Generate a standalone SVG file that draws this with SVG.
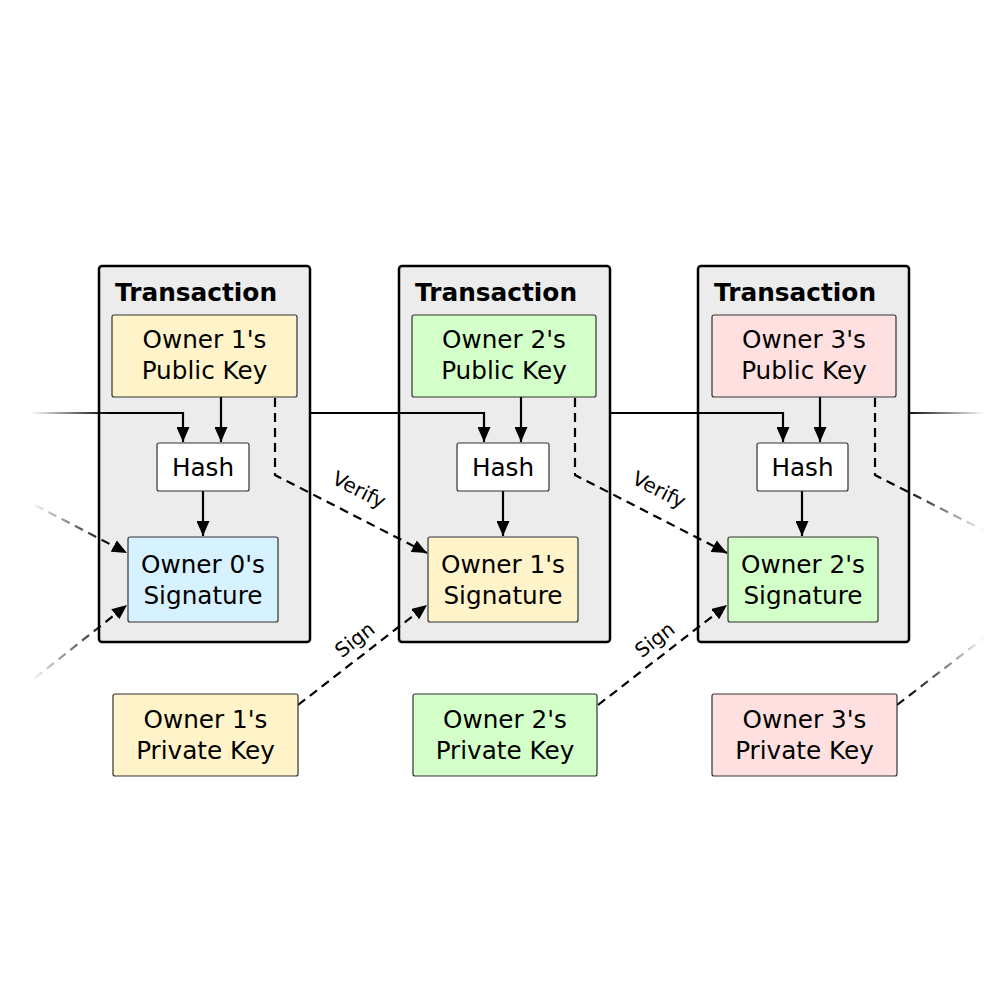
<svg xmlns="http://www.w3.org/2000/svg" width="1000" height="1000" viewBox="0 0 1000 1000">
<style>
.tx{fill:#ececec;stroke:#000;stroke-width:2.5}
.node{stroke:#333;stroke-width:1.2}
.y{fill:#fff4c9}.g{fill:#d3ffc9}.p{fill:#ffe0e0}.b{fill:#d6f1ff}.w{fill:#fff}
text{font-family:"DejaVu Sans",sans-serif;fill:#000}
.t{font-size:24.7px;text-anchor:middle}
.h{font-size:24.8px;font-weight:bold}
.l{font-size:20px;text-anchor:middle}
.s{fill:none;stroke:#000;stroke-width:2.2}
.d{fill:none;stroke:#000;stroke-width:2.2;stroke-dasharray:9,6}
.fl{stroke:url(#fl)}
.fr{stroke:url(#fr)}
</style>
<defs>
<marker id="a" viewBox="0 0 15 13" refX="15" refY="6.5" markerWidth="15" markerHeight="13" markerUnits="userSpaceOnUse" orient="auto"><path d="M0,0L15,6.5L0,13z" fill="#000"/></marker>
<linearGradient id="fl" gradientUnits="userSpaceOnUse" x1="30" y1="0" x2="110" y2="0"><stop offset="0" stop-color="#000" stop-opacity="0"/><stop offset="1" stop-color="#000"/></linearGradient>
<linearGradient id="fr" gradientUnits="userSpaceOnUse" x1="905" y1="0" x2="985" y2="0"><stop offset="0" stop-color="#000"/><stop offset="1" stop-color="#000" stop-opacity="0"/></linearGradient>
</defs>
<g id="tx1"><rect class="tx" x="99" y="266" width="211" height="376" rx="3"/><text class="h" x="115" y="301">Transaction</text></g>
<g id="tx2"><rect class="tx" x="399" y="266" width="211" height="376" rx="3"/><text class="h" x="415" y="301">Transaction</text></g>
<g id="tx3"><rect class="tx" x="698" y="266" width="211" height="376" rx="3"/><text class="h" x="714" y="301">Transaction</text></g>
<g id="connectors">
<path class="s fl" d="M30,413H183V442" marker-end="url(#a)"/>
<path class="s" d="M221,397V442" marker-end="url(#a)"/>
<path class="s" d="M203,491V536" marker-end="url(#a)"/>
<path class="s" d="M310,413H484V442" marker-end="url(#a)"/>
<path class="s" d="M521,397V442" marker-end="url(#a)"/>
<path class="s" d="M503,491V536" marker-end="url(#a)"/>
<path class="s" d="M610,413H783V442" marker-end="url(#a)"/>
<path class="s" d="M820,397V442" marker-end="url(#a)"/>
<path class="s" d="M802,491V536" marker-end="url(#a)"/>
<path class="s fr" d="M909,413H985"/>
<path class="d fl" d="M35,505L127,553" marker-end="url(#a)"/>
<path class="d fl" d="M35,678L127,605" marker-end="url(#a)"/>
<path class="d" d="M275,398V475L427,553" marker-end="url(#a)"/>
<path class="d" d="M298,705L427,605" marker-end="url(#a)"/>
<path class="d" d="M575,398V475L727,553" marker-end="url(#a)"/>
<path class="d" d="M598,705L727,605" marker-end="url(#a)"/>
<path class="d fr" d="M875,398V475L985,531"/>
<path class="d fr" d="M897,705L985,637"/>
<text class="l" transform="translate(356,496) rotate(27)">Verify</text>
<text class="l" transform="translate(656,496) rotate(27)">Verify</text>
<text class="l" transform="translate(359,645) rotate(-38)">Sign</text>
<text class="l" transform="translate(659,645) rotate(-38)">Sign</text>
</g>
<g id="pub1"><rect class="node y" x="112" y="315" width="185" height="82" rx="2"/><text class="t" x="204.5" y="348">Owner 1's</text><text class="t" x="204.5" y="379">Public Key</text></g>
<g id="pub2"><rect class="node g" x="412" y="315" width="184" height="82" rx="2"/><text class="t" x="504" y="348">Owner 2's</text><text class="t" x="504" y="379">Public Key</text></g>
<g id="pub3"><rect class="node p" x="712" y="315" width="184" height="82" rx="2"/><text class="t" x="804" y="348">Owner 3's</text><text class="t" x="804" y="379">Public Key</text></g>
<g id="hash1"><rect class="node w" x="157" y="443" width="92" height="48" rx="2"/><text class="t" x="203" y="476">Hash</text></g>
<g id="hash2"><rect class="node w" x="457" y="443" width="92" height="48" rx="2"/><text class="t" x="503" y="476">Hash</text></g>
<g id="hash3"><rect class="node w" x="757" y="443" width="91" height="48" rx="2"/><text class="t" x="802.5" y="476">Hash</text></g>
<g id="sig0"><rect class="node b" x="128" y="537" width="150" height="85" rx="2"/><text class="t" x="203" y="573">Owner 0's</text><text class="t" x="203" y="604">Signature</text></g>
<g id="sig1"><rect class="node y" x="428" y="537" width="150" height="85" rx="2"/><text class="t" x="503" y="573">Owner 1's</text><text class="t" x="503" y="604">Signature</text></g>
<g id="sig2"><rect class="node g" x="728" y="537" width="150" height="85" rx="2"/><text class="t" x="803" y="573">Owner 2's</text><text class="t" x="803" y="604">Signature</text></g>
<g id="priv1"><rect class="node y" x="113" y="694" width="185" height="82" rx="2"/><text class="t" x="205.5" y="728">Owner 1's</text><text class="t" x="205.5" y="759">Private Key</text></g>
<g id="priv2"><rect class="node g" x="413" y="694" width="184" height="82" rx="2"/><text class="t" x="505" y="728">Owner 2's</text><text class="t" x="505" y="759">Private Key</text></g>
<g id="priv3"><rect class="node p" x="712" y="694" width="185" height="82" rx="2"/><text class="t" x="804.5" y="728">Owner 3's</text><text class="t" x="804.5" y="759">Private Key</text></g>
</svg>
